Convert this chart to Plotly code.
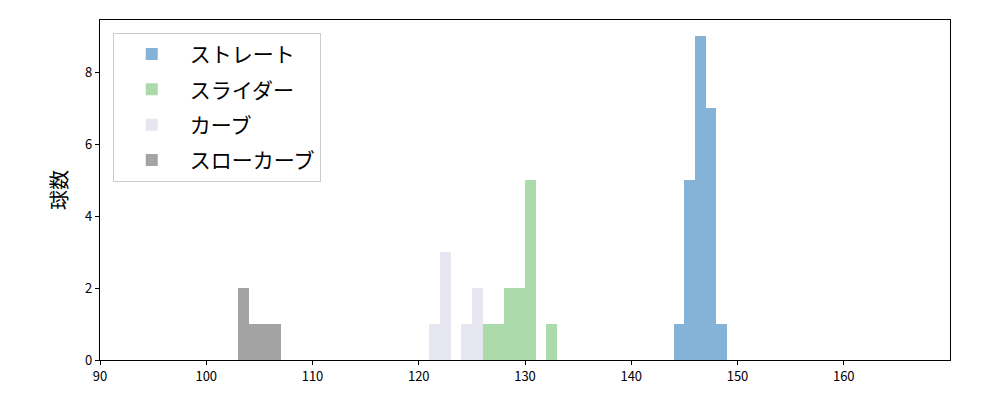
import plotly.graph_objects as go

# bin left edges (km/h) and counts per pitch type
straight_bins = [144, 145, 146, 147, 148]
straight_counts = [1, 5, 9, 7, 1]
slider_bins = [126, 127, 128, 129, 130, 132]
slider_counts = [1, 1, 2, 2, 5, 1]
curve_bins = [121, 122, 124, 125]
curve_counts = [1, 3, 1, 2]
slowcurve_bins = [103, 104, 105, 106]
slowcurve_counts = [2, 1, 1, 1]

names = ["ストレート", "スライダー", "カーブ", "スローカーブ"]
colors = ["#84b3d7", "#acdbab", "#e6e6f1", "#a3a3a3"]
series = [(straight_bins, straight_counts), (slider_bins, slider_counts),
          (curve_bins, curve_counts), (slowcurve_bins, slowcurve_counts)]

fig = go.Figure()
for name, color, (bins, counts) in zip(names, colors, series):
    fig.add_trace(go.Bar(
        x=[b + 0.5 for b in bins], y=counts, width=1, name=name,
        legendgroup=name,
        marker=dict(color=color, line=dict(width=0)),
    ))

font_family = "Noto Sans CJK JP, DejaVu Sans, sans-serif"
fig.update_layout(
    width=992, height=392,
    margin=dict(l=92, r=50, t=12, b=40),
    plot_bgcolor="white", paper_bgcolor="white",
    barmode="overlay", bargap=0,
    font=dict(family=font_family, color="black", size=13),
    legend=dict(x=0.015, y=0.962, xanchor="left", yanchor="top",
                bgcolor="rgba(255,255,255,0.8)", bordercolor="#cccccc", borderwidth=1,
                font=dict(size=21, family=font_family), itemwidth=66,
                tracegroupgap=5),
    xaxis=dict(range=[90, 170], tickvals=[90, 100, 110, 120, 130, 140, 150, 160],
               showline=True, linecolor="black", linewidth=1.2, mirror=True,
               ticks="outside", ticklen=4, tickcolor="black", showgrid=False, zeroline=False),
    yaxis=dict(range=[0, 9.45], tickvals=[0, 2, 4, 6, 8],
               showline=True, linecolor="black", linewidth=1.2, mirror=True,
               ticks="outside", ticklen=4, tickcolor="black", showgrid=False, zeroline=False,
               title=dict(text="球数", font=dict(size=20, family=font_family), standoff=12)),
)
fig.write_html("out.html")
